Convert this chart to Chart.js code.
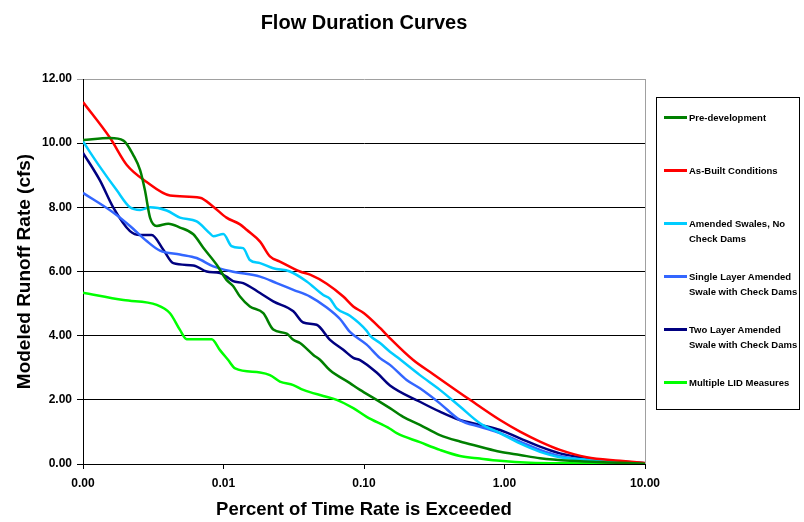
<!DOCTYPE html>
<html>
<head>
<meta charset="utf-8">
<title>Flow Duration Curves</title>
<script src="https://cdn.jsdelivr.net/npm/chart.js@4.4.0/dist/chart.umd.min.js"></script>
<style>
  body { margin: 0; background: #fff; }
  #wrap { position: relative; width: 804px; height: 522px; background: #fff; }
  #legendBox {
    position: absolute; left: 656px; top: 97px; width: 144px; height: 313px;
    border: 1px solid #000; box-sizing: border-box;
    font: bold 9.5px Arial, "Liberation Sans", sans-serif; color: #000;
  }
  .item { position: absolute; left: 7px; width: 134px; }
  .swatch { position: absolute; left: 0; top: 6px; width: 23px; height: 3px; }
  .label { position: absolute; left: 25px; line-height: 15px; white-space: nowrap; }
</style>
</head>
<body>
<div id="wrap">
  <canvas id="fdc" width="804" height="522"></canvas>
  <div id="legendBox"></div>
</div>
<script>
// ---------- data (percent of time exceeded, modeled runoff rate in cfs) ----------
const seriesNames = [
  'Pre-development',
  'As-Built Conditions',
  'Amended Swales, No|Check Dams',
  'Single Layer Amended|Swale with Check Dams',
  'Two Layer Amended|Swale with Check Dams',
  'Multiple LID Measures'
];
const seriesColors = ['#008000', '#ff0000', '#00ccff', '#3366ff', '#000080', '#00ff00'];

const preDevX = [0.001, 0.00156, 0.00194, 0.00228, 0.00255, 0.00276, 0.0030, 0.00335, 0.00405, 0.0049, 0.0061, 0.00718, 0.00895, 0.0105, 0.0117, 0.0131, 0.0154, 0.0192, 0.0226, 0.0282, 0.0314, 0.035, 0.0436, 0.0486, 0.0573, 0.0794, 0.0937, 0.123, 0.153, 0.19, 0.25, 0.347, 0.482, 0.669, 0.929, 1.289, 1.789, 2.92, 6.64, 10];
const preDevY = [10.1, 10.16, 10.08, 9.63, 9.16, 8.53, 7.68, 7.42, 7.49, 7.37, 7.16, 6.74, 6.21, 5.74, 5.55, 5.22, 4.91, 4.70, 4.19, 4.06, 3.87, 3.77, 3.40, 3.25, 2.92, 2.52, 2.31, 2.0, 1.74, 1.47, 1.22, 0.90, 0.70, 0.54, 0.38, 0.28, 0.18, 0.10, 0.04, 0.01];

const asBuiltX = [0.001, 0.00156, 0.00205, 0.00284, 0.00416, 0.0068, 0.00846, 0.0105, 0.0131, 0.0146, 0.0182, 0.0214, 0.0252, 0.035, 0.0413, 0.0543, 0.0712, 0.0839, 0.1, 0.13, 0.149, 0.224, 0.311, 0.568, 0.929, 1.289, 1.789, 2.483, 3.845, 6.637, 10];
const asBuiltY = [11.28, 10.16, 9.32, 8.79, 8.37, 8.30, 8.02, 7.68, 7.47, 7.30, 6.93, 6.47, 6.31, 6.0, 5.90, 5.62, 5.22, 4.91, 4.70, 4.24, 3.97, 3.24, 2.80, 2.0, 1.37, 1.01, 0.70, 0.44, 0.21, 0.10, 0.03];

const amendX = [0.001, 0.00132, 0.00174, 0.00216, 0.00255, 0.0030, 0.00394, 0.0049, 0.00644, 0.008, 0.00846, 0.00997, 0.0114, 0.0131, 0.0138, 0.0154, 0.0182, 0.0226, 0.0297, 0.0391, 0.0513, 0.0573, 0.0639, 0.0794, 0.1045, 0.1103, 0.13, 0.153, 0.171, 0.25, 0.347, 0.482, 0.669, 0.929, 1.289, 1.789, 2.483, 4.529, 10];
const amendY = [10.05, 9.26, 8.53, 8.0, 7.92, 8.0, 7.9, 7.68, 7.56, 7.19, 7.10, 7.17, 6.79, 6.74, 6.73, 6.36, 6.26, 6.10, 6.0, 5.69, 5.27, 5.15, 4.85, 4.62, 4.15, 4.0, 3.77, 3.5, 3.34, 2.77, 2.31, 1.79, 1.27, 0.96, 0.64, 0.38, 0.21, 0.12, 0.02];

const singleX = [0.001, 0.00164, 0.00216, 0.00284, 0.00353, 0.0049, 0.00644, 0.00846, 0.0115, 0.0182, 0.0239, 0.0314, 0.0413, 0.0543, 0.0675, 0.0794, 0.1045, 0.13, 0.153, 0.201, 0.25, 0.347, 0.482, 0.669, 0.929, 1.289, 1.789, 2.483, 3.845, 10];
const singleY = [8.45, 7.84, 7.42, 6.95, 6.65, 6.53, 6.42, 6.16, 6.0, 5.84, 5.64, 5.43, 5.22, 4.88, 4.52, 4.12, 3.72, 3.30, 3.09, 2.62, 2.36, 1.89, 1.37, 1.16, 0.96, 0.70, 0.44, 0.25, 0.12, 0.01];

const twoX = [0.001, 0.00132, 0.00164, 0.00216, 0.00255, 0.00308, 0.00373, 0.00439, 0.0061, 0.00759, 0.00944, 0.0105, 0.0117, 0.0138, 0.0182, 0.0226, 0.0314, 0.037, 0.046, 0.0573, 0.0712, 0.0839, 0.0937, 0.123, 0.153, 0.25, 0.347, 0.482, 0.669, 0.929, 1.289, 1.789, 2.483, 3.444, 5.047, 10];
const twoY = [9.7, 8.84, 8.0, 7.26, 7.14, 7.14, 6.68, 6.26, 6.19, 6.0, 5.95, 5.84, 5.70, 5.64, 5.33, 5.07, 4.76, 4.41, 4.34, 3.87, 3.56, 3.31, 3.24, 2.85, 2.45, 1.94, 1.63, 1.37, 1.22, 1.06, 0.80, 0.54, 0.33, 0.21, 0.12, 0.02];

const lidX = [0.001, 0.00194, 0.00335, 0.00416, 0.0049, 0.00547, 0.00824, 0.00944, 0.0108, 0.0121, 0.0182, 0.0214, 0.0252, 0.0314, 0.037, 0.0513, 0.0639, 0.0839, 0.1045, 0.153, 0.171, 0.25, 0.347, 0.482, 0.669, 0.929, 1.519, 2.924, 10];
const lidY = [5.34, 5.11, 4.96, 4.70, 4.18, 3.89, 3.89, 3.55, 3.24, 2.98, 2.85, 2.77, 2.57, 2.46, 2.31, 2.12, 2.0, 1.74, 1.47, 1.10, 0.96, 0.68, 0.44, 0.25, 0.17, 0.10, 0.04, 0.02, 0.0];

const seriesX = [preDevX, asBuiltX, amendX, singleX, twoX, lidX];
const seriesY = [preDevY, asBuiltY, amendY, singleY, twoY, lidY];

const xTicks = [0.001, 0.01, 0.1, 1, 10];

// ---------- chart ----------
const baseFont = 'Arial, "Liberation Sans", sans-serif';

const datasets = seriesNames.map((name, i) => ({
  label: name.replace('|', ' '),
  data: seriesX[i].map((x, j) => ({ x: x, y: seriesY[i][j] })),
  borderColor: seriesColors[i],
  backgroundColor: seriesColors[i],
  borderWidth: 2.5,
  pointRadius: 0,
  fill: false,
  cubicInterpolationMode: 'monotone'
}));

// grey right edge of the plot area
const plotFrame = {
  id: 'plotFrame',
  beforeDatasetsDraw(chart) {
    const a = chart.chartArea, c = chart.ctx;
    c.save();
    c.strokeStyle = '#a0a0a0';
    c.lineWidth = 1;
    c.beginPath();
    c.moveTo(Math.round(a.right) + 0.5, a.top);
    c.lineTo(Math.round(a.right) + 0.5, a.bottom);
    c.stroke();
    c.restore();
  }
};

const chart = new Chart(document.getElementById('fdc').getContext('2d'), {
  type: 'line',
  data: { datasets },
  options: {
    responsive: false,
    animation: false,
    layout: { padding: { top: 0, left: 0, right: 159, bottom: 0 } },
    plugins: {
      legend: { display: false },
      tooltip: { enabled: false },
      title: {
        display: true,
        text: 'Flow Duration Curves',
        fullSize: false,
        color: '#000',
        font: { family: baseFont, size: 20, weight: 'bold' },
        padding: { top: 11, bottom: 44 }
      }
    },
    scales: {
      x: {
        type: 'logarithmic',
        min: 0.001,
        max: 10,
        afterBuildTicks: s => { s.ticks = xTicks.map(v => ({ value: v })); },
        afterFit: s => { s.height = 58; },
        ticks: {
          autoSkip: false, maxRotation: 0, padding: 7, color: '#000',
          font: { family: baseFont, size: 12, weight: 'bold' },
          callback: v => Number(v).toFixed(2)
        },
        grid: { drawOnChartArea: false, color: '#000', tickLength: 5 },
        border: { color: '#000' },
        title: {
          display: true, text: 'Percent of Time Rate is Exceeded', color: '#000',
          font: { family: baseFont, size: 18.5, weight: 'bold' },
          padding: { top: 0, bottom: 1 }
        }
      },
      y: {
        min: 0,
        max: 12,
        afterFit: s => { s.width = 83; },
        ticks: {
          stepSize: 2, padding: 5, color: '#000',
          font: { family: baseFont, size: 12, weight: 'bold' },
          callback: v => Number(v).toFixed(2)
        },
        grid: {
          color: c => (c.tick && c.tick.value === 12) ? '#a0a0a0' : '#000',
          tickLength: 6
        },
        border: { color: '#000' },
        title: {
          display: true, text: 'Modeled Runoff Rate (cfs)', color: '#000',
          font: { family: baseFont, size: 19, weight: 'bold' },
          padding: { top: 13, bottom: 0 }
        }
      }
    }
  },
  plugins: [plotFrame]
});

// ---------- legend (html, two-line labels) ----------
const box = document.getElementById('legendBox');
seriesNames.forEach((name, i) => {
  const item = document.createElement('div');
  item.className = 'item';
  item.style.top = (12 + i * 53) + 'px';
  const sw = document.createElement('div');
  sw.className = 'swatch';
  sw.style.background = seriesColors[i];
  const lab = document.createElement('div');
  lab.className = 'label';
  lab.innerHTML = name.split('|').join('<br>');
  item.appendChild(sw);
  item.appendChild(lab);
  box.appendChild(item);
});
</script>
</body>
</html>
